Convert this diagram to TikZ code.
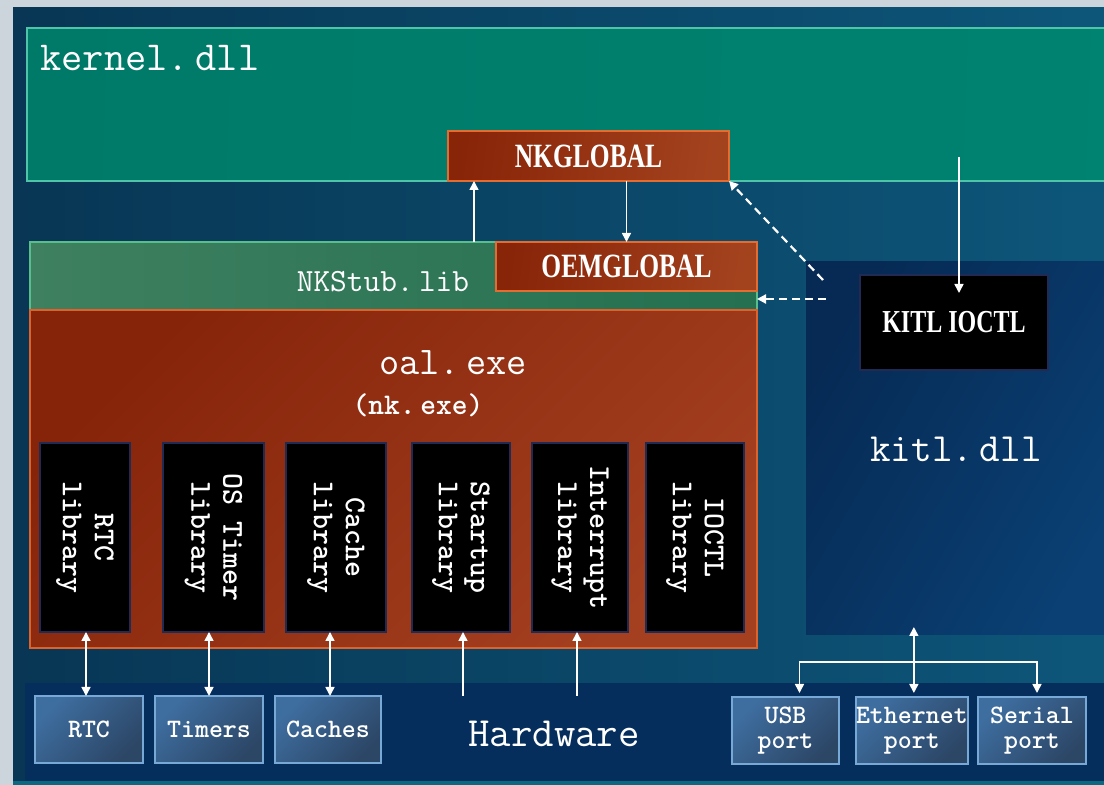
\documentclass[tikz,border=0pt]{standalone}
\usepackage{fontspec}
\usepackage{tikz}
\usetikzlibrary{arrows.meta,calc}
\newfontfamily\condserif[FakeStretch=0.75]{Liberation Serif}
\definecolor{FrameGrey}{RGB}{203,213,219}
\definecolor{BgDark}{RGB}{8,54,84}
\definecolor{BgLight}{RGB}{13,86,122}
\definecolor{StripTeal}{RGB}{10,104,128}
\definecolor{KernelTeal}{RGB}{0,142,126}
\definecolor{KernelSide}{RGB}{0,122,104}
\definecolor{KernelDark}{RGB}{0,104,82}
\definecolor{KernelEdge}{RGB}{80,196,168}
\definecolor{StubGreen}{RGB}{62,128,96}
\definecolor{StubDark}{RGB}{36,112,80}
\definecolor{StubEdge}{RGB}{88,190,140}
\definecolor{OalRust}{RGB}{164,64,32}
\definecolor{OalDark}{RGB}{134,36,10}
\definecolor{OalEdge}{RGB}{222,98,44}
\definecolor{GlobalLight}{RGB}{186,92,48}
\definecolor{GlobalDark}{RGB}{136,36,8}
\definecolor{GlobalEdge}{RGB}{228,108,48}
\definecolor{LibEdge}{RGB}{32,42,82}
\definecolor{KitlNavy}{RGB}{6,42,84}
\definecolor{KitlLight}{RGB}{10,64,116}
\definecolor{HwNavy}{RGB}{5,46,92}
\definecolor{PortBlue}{RGB}{62,110,160}
\definecolor{PortDark}{RGB}{44,70,102}
\definecolor{PortEdge}{RGB}{120,168,214}
\newcommand{\pxu}{0.5pt}
\tikzset{
  panel/.style={anchor=north west,inner sep=0pt,outer sep=0pt,line width=0.8pt},
  globalbox/.style={panel,draw=GlobalEdge,left color=GlobalDark,middle color=GlobalLight,
    right color=GlobalDark!45!GlobalLight,shading angle=82,text=white,
    font=\condserif\bfseries\fontsize{17pt}{19pt}\selectfont},
  libbox/.style={panel,fill=black,draw=LibEdge,minimum height=189*\pxu},
  libtext/.style={rotate=-90,align=center,text=white,
    font=\ttfamily\bfseries\fontsize{15.2pt}{16pt}\selectfont},
  portbox/.style={panel,draw=PortEdge,left color=PortBlue,right color=PortDark,shading angle=45,
    minimum height=67*\pxu,text=white,align=center,
    font=\ttfamily\bfseries\fontsize{13.3pt}{12.5pt}\selectfont},
  bigtext/.style={text=white,inner sep=0pt,font=\ttfamily\fontsize{#1}{#1}\selectfont},
  wire/.style={draw=white,line width=0.8pt},
  dashwire/.style={wire,line width=1.1pt,dash pattern=on 4pt off 2.5pt}
}

\begin{document}
\begin{tikzpicture}[x=0.5pt,y=-0.5pt,>={Triangle[width=4.5pt,length=4.5pt]}]
  \useasboundingbox (0,0) rectangle (1104,785);
  % backdrop
  \fill[FrameGrey] (0,0) rectangle (1104,785);
  \shade[left color=BgDark,right color=BgLight] (13,8) rectangle (1104,785);
  \fill[StripTeal] (13,781) rectangle (1104,785);

  % big regions
  \node[panel,draw=KernelEdge,left color=KernelSide,middle color=KernelTeal,
    right color=KernelTeal!70!KernelDark,shading angle=88,
    minimum width=1090*\pxu,minimum height=153*\pxu] (kernel) at (27,28) {};
  \node[panel,left color=KitlNavy,right color=KitlLight,shading angle=60,
    minimum width=310*\pxu,minimum height=373*\pxu] (kitl) at (806,262) {};
  \node[panel,fill=HwNavy,minimum width=1090*\pxu,minimum height=98*\pxu] (hw) at (25,683) {};
  \node[panel,draw=StubEdge,left color=StubGreen,right color=StubDark,
    minimum width=727*\pxu,minimum height=68*\pxu] (nkstub) at (30,242) {};
  \node[panel,draw=OalEdge,left color=OalDark,right color=OalRust,shading angle=45,
    minimum width=727*\pxu,minimum height=338*\pxu] (oal) at (30,310) {};

  % globals
  \node[globalbox,minimum width=281*\pxu,minimum height=50*\pxu] (nkglobal) at (448,131) {NKGLOBAL};
  \node[globalbox,minimum width=261*\pxu,minimum height=49*\pxu] (oemglobal) at (496,242) {OEMGLOBAL};
  \node[panel,fill=black,draw=LibEdge,minimum width=188*\pxu,minimum height=95*\pxu,text=white,
    font=\condserif\bfseries\fontsize{16pt}{18pt}\selectfont] (kitlioctl) at (860,275) {KITL IOCTL};

  % libraries inside oal.exe
  \foreach \nm/\x/\w/\txt in {rtc/40/90/RTC, timer/163/101/OS Timer, cache/286/100/Cache,
      startup/412/98/Startup, intr/532/96/Interrupt, ioctl/646/98/IOCTL} {
    \node[libbox,minimum width=\w*\pxu] (lib\nm) at (\x,443) {};
    \node[libtext] (lib\nm-txt) at (lib\nm.center) {\txt\\library};
  }

  % hardware boxes
  \node[portbox,minimum width=108*\pxu] (hwrtc) at (35,696) {RTC};
  \node[portbox,minimum width=108*\pxu] (hwtimers) at (155,696) {Timers};
  \node[portbox,minimum width=106*\pxu] (hwcaches) at (275,696) {Caches};
  \node[portbox,minimum width=107*\pxu] (usb) at (732,697) {USB\\port};
  \node[portbox,minimum width=107*\pxu] (eth) at (856,697) {Ethernet\\port};
  \node[portbox,minimum width=108*\pxu] (serial) at (978,697) {Serial\\port};

  % labels
  \node[bigtext=20.6pt,anchor=base west] (kerneltxt) at (40,71) {kernel.\,dll};
  \node[bigtext=16.2pt,anchor=base] (stubtxt) at (383,292) {NKStub.\,lib};
  \node[bigtext=19.6pt,anchor=base] (oaltxt) at (453,375) {oal.\,exe};
  \node[bigtext=15pt,anchor=base,font=\ttfamily\bfseries\fontsize{15pt}{15pt}\selectfont] (nktxt) at (418,415) {(nk.\,exe)};
  \node[bigtext=20pt,anchor=base] (kitltxt) at (956,462) {kitl.\,dll};
  \node[bigtext=20.8pt,anchor=base] (hwtxt) at (554,747) {Hardware};

  % calls between the pieces
  \coordinate (upx) at (474,0);
  \draw[wire,->] (nkstub.north -| upx) -- (nkglobal.south -| upx);
  \draw[wire,->] (nkglobal.south -| oemglobal.north) -- (oemglobal.north);
  \draw[wire,->] ($(kitlioctl.north)+(5,-118)$) -- ($(kitlioctl.north)+(5,18)$);
  \coordinate (kitlA) at ($(kitl.north west)+(17,18)$);
  \coordinate (kitlB) at ($(kitl.north west)+(20,37)$);
  \draw[dashwire,->] (kitlA) -- (nkglobal.south east);
  \draw[dashwire,->] (kitlB) -- (kitlB -| nkstub.east);

  % down to the hardware
  \draw[wire,<->] (librtc.south -| 86,0) -- (hwrtc.north -| 86,0);
  \draw[wire,<->] (libtimer.south -| hwtimers.north) -- (hwtimers.north);
  \draw[wire,<->] (libcache.south -| 330,0) -- (hwcaches.north -| 330,0);
  \draw[wire,->] (hwrtc.north -| 463,0) -- (libstartup.south -| 463,0);
  \draw[wire,->] (hwrtc.north -| 577,0) -- (libintr.south -| 577,0);

  % kitl.dll to the ports
  \coordinate (bus) at ($(eth.north)+(2,-35)$);
  \draw[wire,<->] ($(bus |- kitl.south)+(0,-8)$) -- ($(bus |- eth.north)+(0,-4)$);
  \draw[wire,->] (bus) -| ($(usb.north)+(14,-4)$);
  \draw[wire,->] (bus) -| ($(serial.north)+(5,-4)$);
\end{tikzpicture}
\end{document}
